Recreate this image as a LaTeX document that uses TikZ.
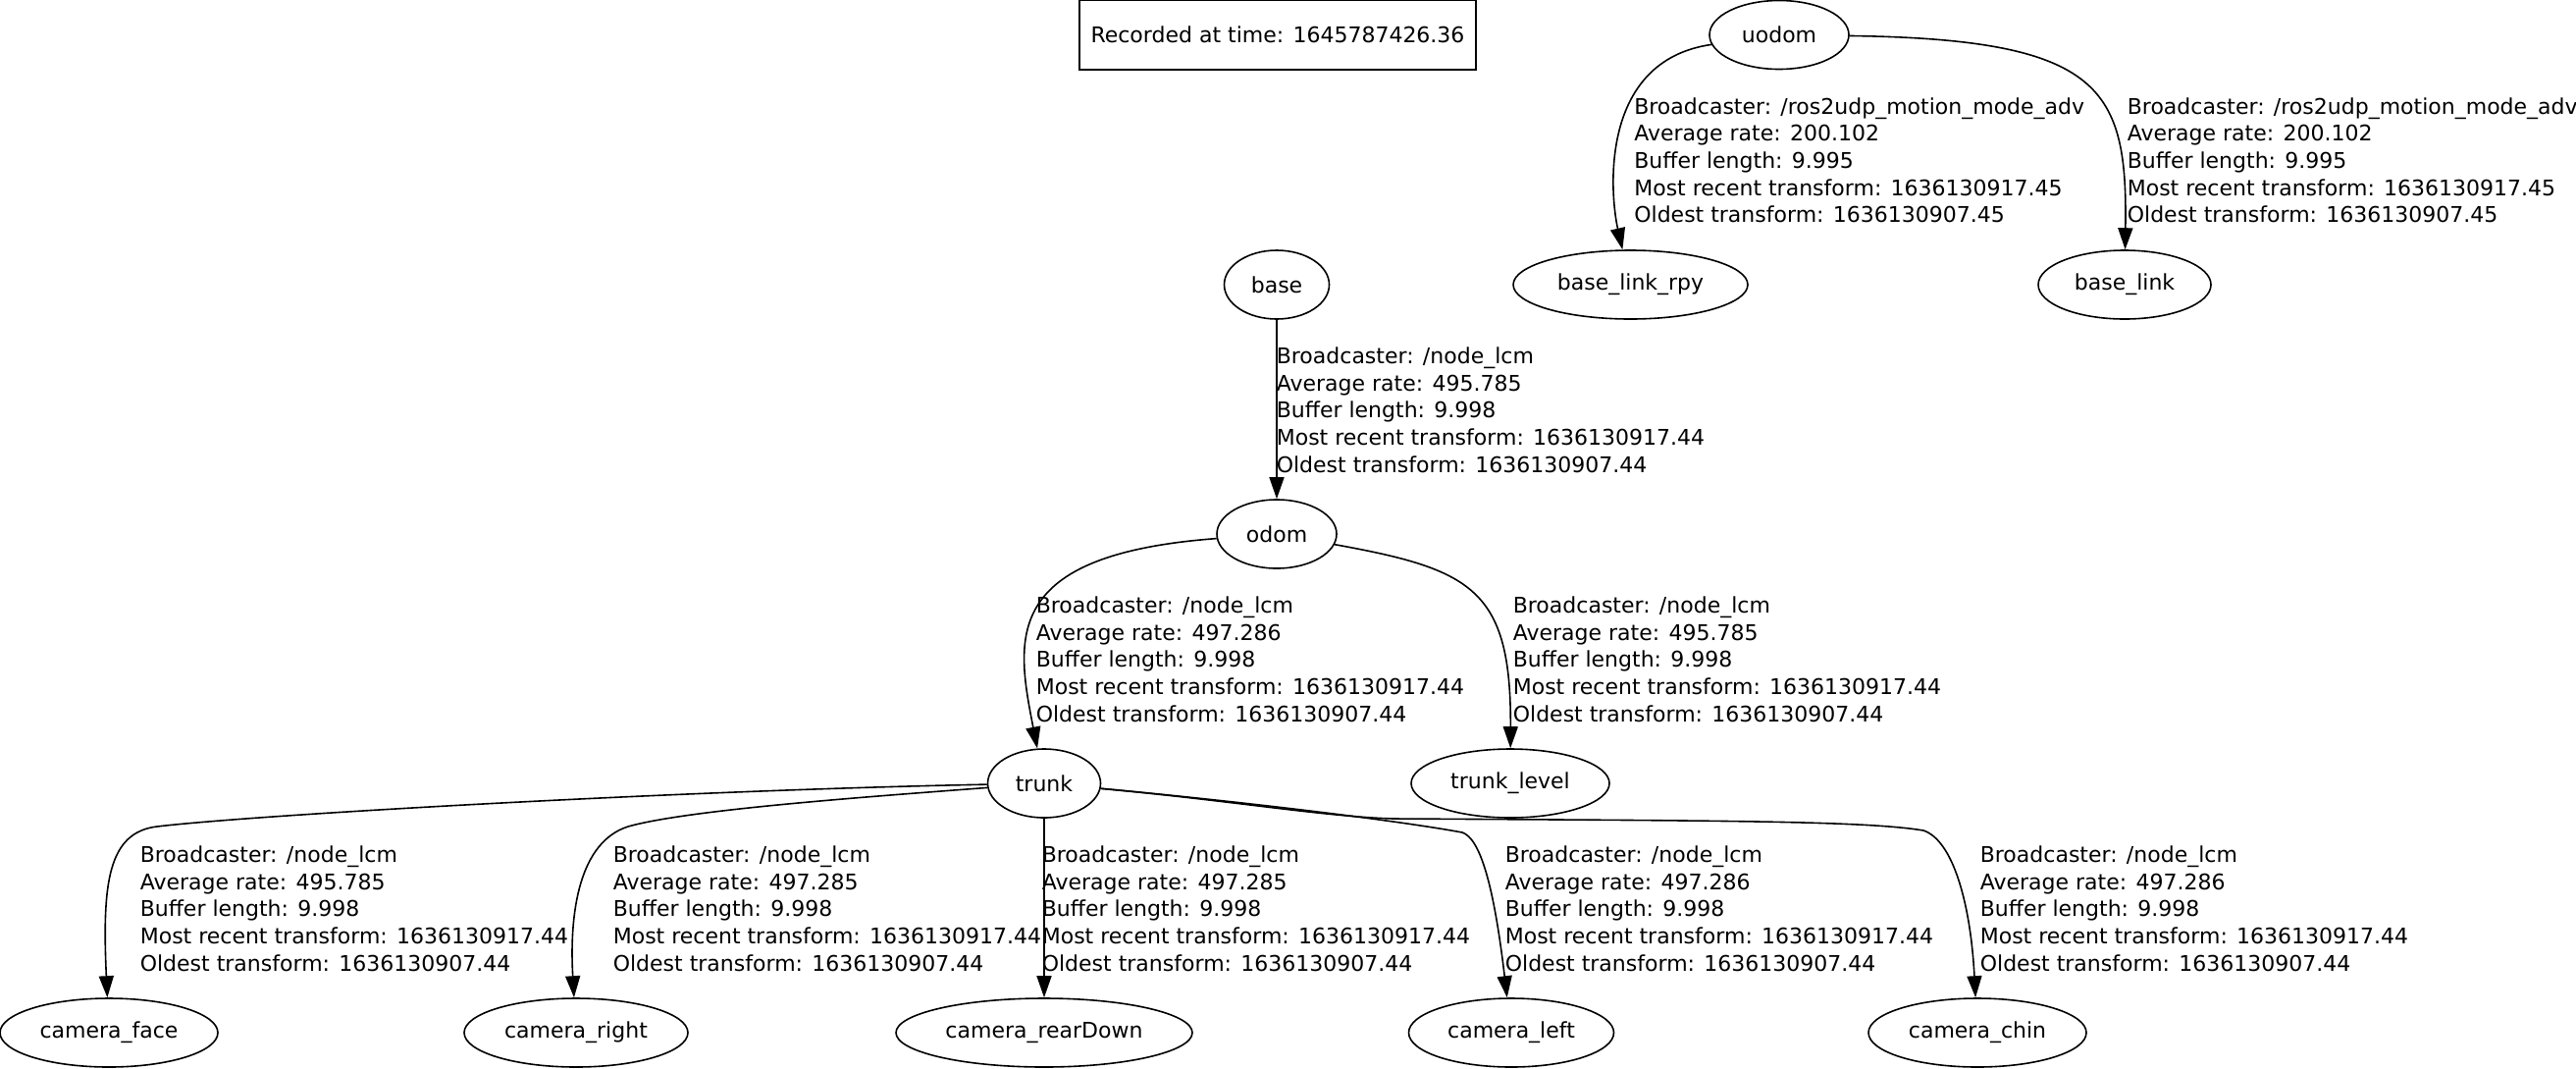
\documentclass[tikz,border=0pt]{standalone}
\usepackage{fontspec}
\setmainfont{DejaVu Sans}
\usetikzlibrary{shapes.geometric, arrows.meta, positioning}

\begin{document}
\begin{tikzpicture}[
    x=1pt, y=-1pt,
    >={Triangle[length=22pt, width=15pt]},
    line width=1.6pt,
    font=\fontsize{22}{27.7}\selectfont,
    frame/.style={ellipse, draw, minimum height=70pt, inner sep=0pt},
    stamp/.style={rectangle, draw, minimum width=404pt, minimum height=71pt, inner sep=0pt},
    info/.style={anchor=north west, align=left, inner sep=0pt}
]

    % Canvas
    \useasboundingbox (0,0) rectangle (2625,1088);

    % Transform statistics
    \def\tfstats#1#2#3#4#5{Broadcaster: #1\\Average rate: #2\\Buffer length: #3\\Most recent transform: #4\\Oldest transform: #5}

    % Frames
    \node[stamp] (stamp) at (1302,35.5) {Recorded at time: 1645787426.36};
    \node[frame, minimum width=142pt] (uodom) at (1813,35.5) {uodom};
    \node[frame, minimum width=107pt] (base) at (1301,290) {base};
    \node[frame, minimum width=239pt] (base_link_rpy) at (1661.5,290) {base\_link\_rpy};
    \node[frame, minimum width=176pt] (base_link) at (2165,290) {base\_link};
    \node[frame, minimum width=122pt] (odom) at (1301,544) {odom};
    \node[frame, minimum width=115pt] (trunk) at (1064,798) {trunk};
    \node[frame, minimum width=202pt] (trunk_level) at (1539,798) {trunk\_level};
    \node[frame, minimum width=222pt] (camera_face) at (111,1052) {camera\_face};
    \node[frame, minimum width=228pt] (camera_right) at (587,1052) {camera\_right};
    \node[frame, minimum width=302pt] (camera_rearDown) at (1064,1052) {camera\_rearDown};
    \node[frame, minimum width=209pt] (camera_left) at (1540,1052) {camera\_left};
    \node[frame, minimum width=222pt] (camera_chin) at (2015,1052) {camera\_chin};

    % uodom branch
    \draw[->] (uodom) .. controls (1628,62) and (1641,200) .. (base_link_rpy);
    \draw[->] (uodom) .. controls (2143,40) and (2168,90) .. (base_link);
    \node[info] (info_rpy) at (1664.5,98.5) {\tfstats{/ros2udp\_motion\_mode\_adv}{200.102}{9.995}{1636130917.45}{1636130907.45}};
    \node[info] (info_link) at (2167,98.5) {\tfstats{/ros2udp\_motion\_mode\_adv}{200.102}{9.995}{1636130917.45}{1636130907.45}};

    % base -> odom
    \draw[->] (base) -- (odom);
    \node[info] (info_odom) at (1300,353) {\tfstats{/node\_lcm}{495.785}{9.998}{1636130917.44}{1636130907.44}};

    % odom branch
    \draw[->] (odom) .. controls (1020,565) and (1035,650) .. (trunk);
    \draw[->] (odom) .. controls (1500,580) and (1540,600) .. (trunk_level);
    \node[info] (info_trunk) at (1055,607) {\tfstats{/node\_lcm}{497.286}{9.998}{1636130917.44}{1636130907.44}};
    \node[info] (info_level) at (1541,607) {\tfstats{/node\_lcm}{495.785}{9.998}{1636130917.44}{1636130907.44}};

    % trunk branch (cameras)
    \draw[->] (trunk) .. controls (700,805) and (260,830) .. (160,842)
        .. controls (110,848) and (104,900) .. (camera_face);
    \draw[->] (trunk) .. controls (880,812) and (700,825) .. (640,842)
        .. controls (590,858) and (580,930) .. (camera_right);
    \draw[->] (trunk) -- (camera_rearDown);
    \draw[->] (trunk) .. controls (1250,815) and (1420,835) .. (1490,848)
        .. controls (1508,854) and (1522,900) .. (camera_left);
    \draw[->] (trunk) .. controls (1250,815) and (1350,832) .. (1420,834)
        .. controls (1750,836) and (1900,836) .. (1960,846)
        .. controls (1990,856) and (2008,920) .. (camera_chin);
    \node[info] (info_face) at (142,861) {\tfstats{/node\_lcm}{495.785}{9.998}{1636130917.44}{1636130907.44}};
    \node[info] (info_right) at (624,861) {\tfstats{/node\_lcm}{497.285}{9.998}{1636130917.44}{1636130907.44}};
    \node[info] (info_rear) at (1061,861) {\tfstats{/node\_lcm}{497.285}{9.998}{1636130917.44}{1636130907.44}};
    \node[info] (info_left) at (1533,861) {\tfstats{/node\_lcm}{497.286}{9.998}{1636130917.44}{1636130907.44}};
    \node[info] (info_chin) at (2017,861) {\tfstats{/node\_lcm}{497.286}{9.998}{1636130917.44}{1636130907.44}};

\end{tikzpicture}
\end{document}
